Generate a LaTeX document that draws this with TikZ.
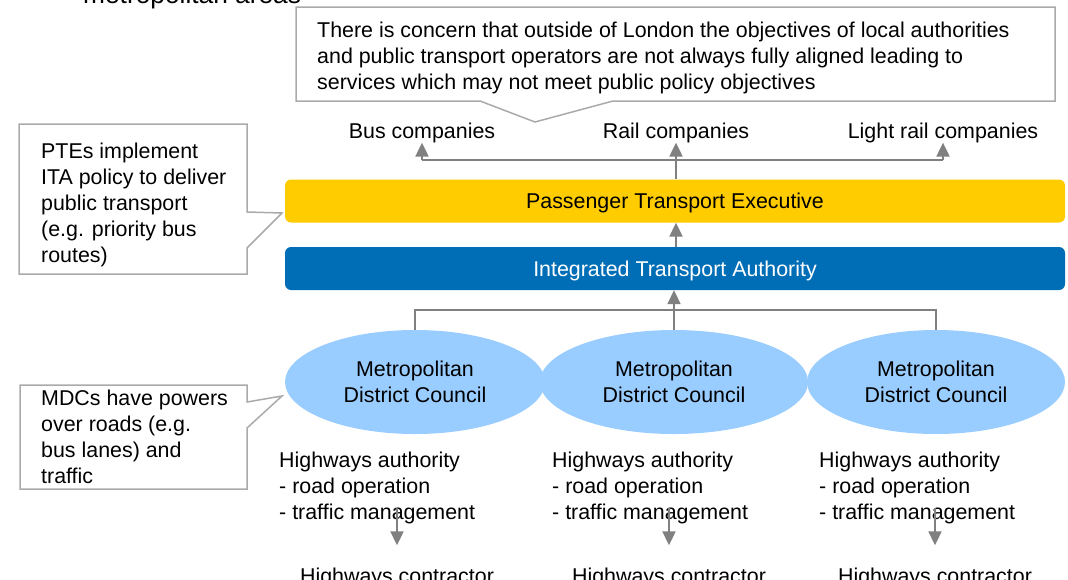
\documentclass[tikz,border=0pt]{standalone}
\usepackage{fontspec}
\setmainfont{Liberation Sans}
\usetikzlibrary{arrows.meta,shapes.geometric}
\definecolor{pteyellow}{RGB}{255,204,0}
\definecolor{itablue}{RGB}{0,110,182}
\definecolor{mdcblue}{RGB}{153,204,255}
\definecolor{arrowgray}{RGB}{128,128,128}
\definecolor{calloutgray}{RGB}{170,170,170}
\begin{document}
\begin{tikzpicture}[x=1pt,y=-1pt,
  txt/.style={font=\fontsize{21.4}{26}\selectfont, inner sep=0pt},
  bar/.style={txt, rounded corners=6pt, minimum width=780pt, minimum height=43pt, text height=15.5pt, text depth=0pt},
  mdc/.style={txt, ellipse, fill=mdcblue, align=center},
  conn/.style={draw=arrowgray, line width=2pt},
  tip/.style={-{Triangle[length=14pt,width=13pt]}},
  callout/.style={draw=calloutgray, line width=1.5pt, line join=miter}
]
\useasboundingbox (0,0) rectangle (1068,579);

% title fragment
\node[font=\fontsize{26.3}{30}\selectfont, inner sep=0pt, anchor=base west] (title) at (83,3.5) {metropolitan areas};

% callouts (base anchor = baseline of last line)
\draw[callout] (296,7) -- (1055,7) -- (1055,101) -- (613,101) -- (535,122) -- (480,101) -- (296,101) -- cycle;
\node[txt, anchor=base west, align=left] (note) at (317,89) {There is concern that outside of London the objectives of local authorities\\and public transport operators are not always fully aligned leading to\\services which may not meet public policy objectives};

\draw[callout] (19,124) -- (247,124) -- (247,212) -- (282,213) -- (247,248) -- (247,274) -- (19,274) -- cycle;
\node[txt, anchor=base west, align=left] (ptenote) at (41,262) {PTEs implement\\ITA policy to deliver\\public transport\\(e.g. priority bus\\routes)};

\draw[callout] (20,385) -- (247,385) -- (247,402) -- (282,396) -- (247,428) -- (247,489) -- (20,489) -- cycle;
\node[txt, anchor=base west, align=left] (mdcnote) at (41,483) {MDCs have powers\\over roads (e.g.\\bus lanes) and\\traffic};

% companies
\node[txt, anchor=base] (bus) at (422,138) {Bus companies};
\node[txt, anchor=base] (rail) at (676,138) {Rail companies};
\node[txt, anchor=base] (light) at (943,138) {Light rail companies};

% bars
\node[bar, fill=pteyellow] (pte) at (675,201) {Passenger Transport Executive};
\node[bar, fill=itablue, text=white] (ita) at (675,268.5) {Integrated Transport Authority};

% councils
\node[mdc, minimum width=260pt, minimum height=104pt] (m1) at (415,382) {Metropolitan\\District Council};
\node[mdc, minimum width=268pt, minimum height=104pt] (m2) at (674,382) {Metropolitan\\District Council};
\node[mdc, minimum width=258pt, minimum height=104pt] (m3) at (936,382) {Metropolitan\\District Council};

% highways
\node[txt, anchor=base west, align=left] (h1) at (279,519) {Highways authority\\- road operation\\- traffic management};
\node[txt, anchor=base west, align=left] (h2) at (552,519) {Highways authority\\- road operation\\- traffic management};
\node[txt, anchor=base west, align=left] (h3) at (819,519) {Highways authority\\- road operation\\- traffic management};

\node[txt, anchor=base] (c1) at (397,583) {Highways contractor};
\node[txt, anchor=base] (c2) at (669,583) {Highways contractor};
\node[txt, anchor=base] (c3) at (935,583) {Highways contractor};

% connectors top
\coordinate (hl) at (0,160);
\draw[conn] (hl -| bus) -- (hl -| light);
\draw[conn,tip] (hl -| bus) -- (bus.south);
\draw[conn,tip] (hl -| light) -- (light.south);
\draw[conn,tip] (pte.north -| rail) -- (rail.south);
\draw[conn,tip] (ita.north -| rail) -- (pte.south -| rail);

% connectors from councils
\coordinate (ml) at (0,310);
\draw[conn] (m1.north) -- (m1.north |- ml) -- (m3.north |- ml) -- (m3.north);
\draw[conn,tip] (m2.north) -- (ita.south -| m2.north);

% to contractors
\draw[conn,tip] ([yshift=16pt]h1.south -| c1.north) -- ([yshift=22pt]c1.north);
\draw[conn,tip] ([yshift=16pt]h2.south -| c2.north) -- ([yshift=22pt]c2.north);
\draw[conn,tip] ([yshift=16pt]h3.south -| c3.north) -- ([yshift=22pt]c3.north);
\end{tikzpicture}
\end{document}
